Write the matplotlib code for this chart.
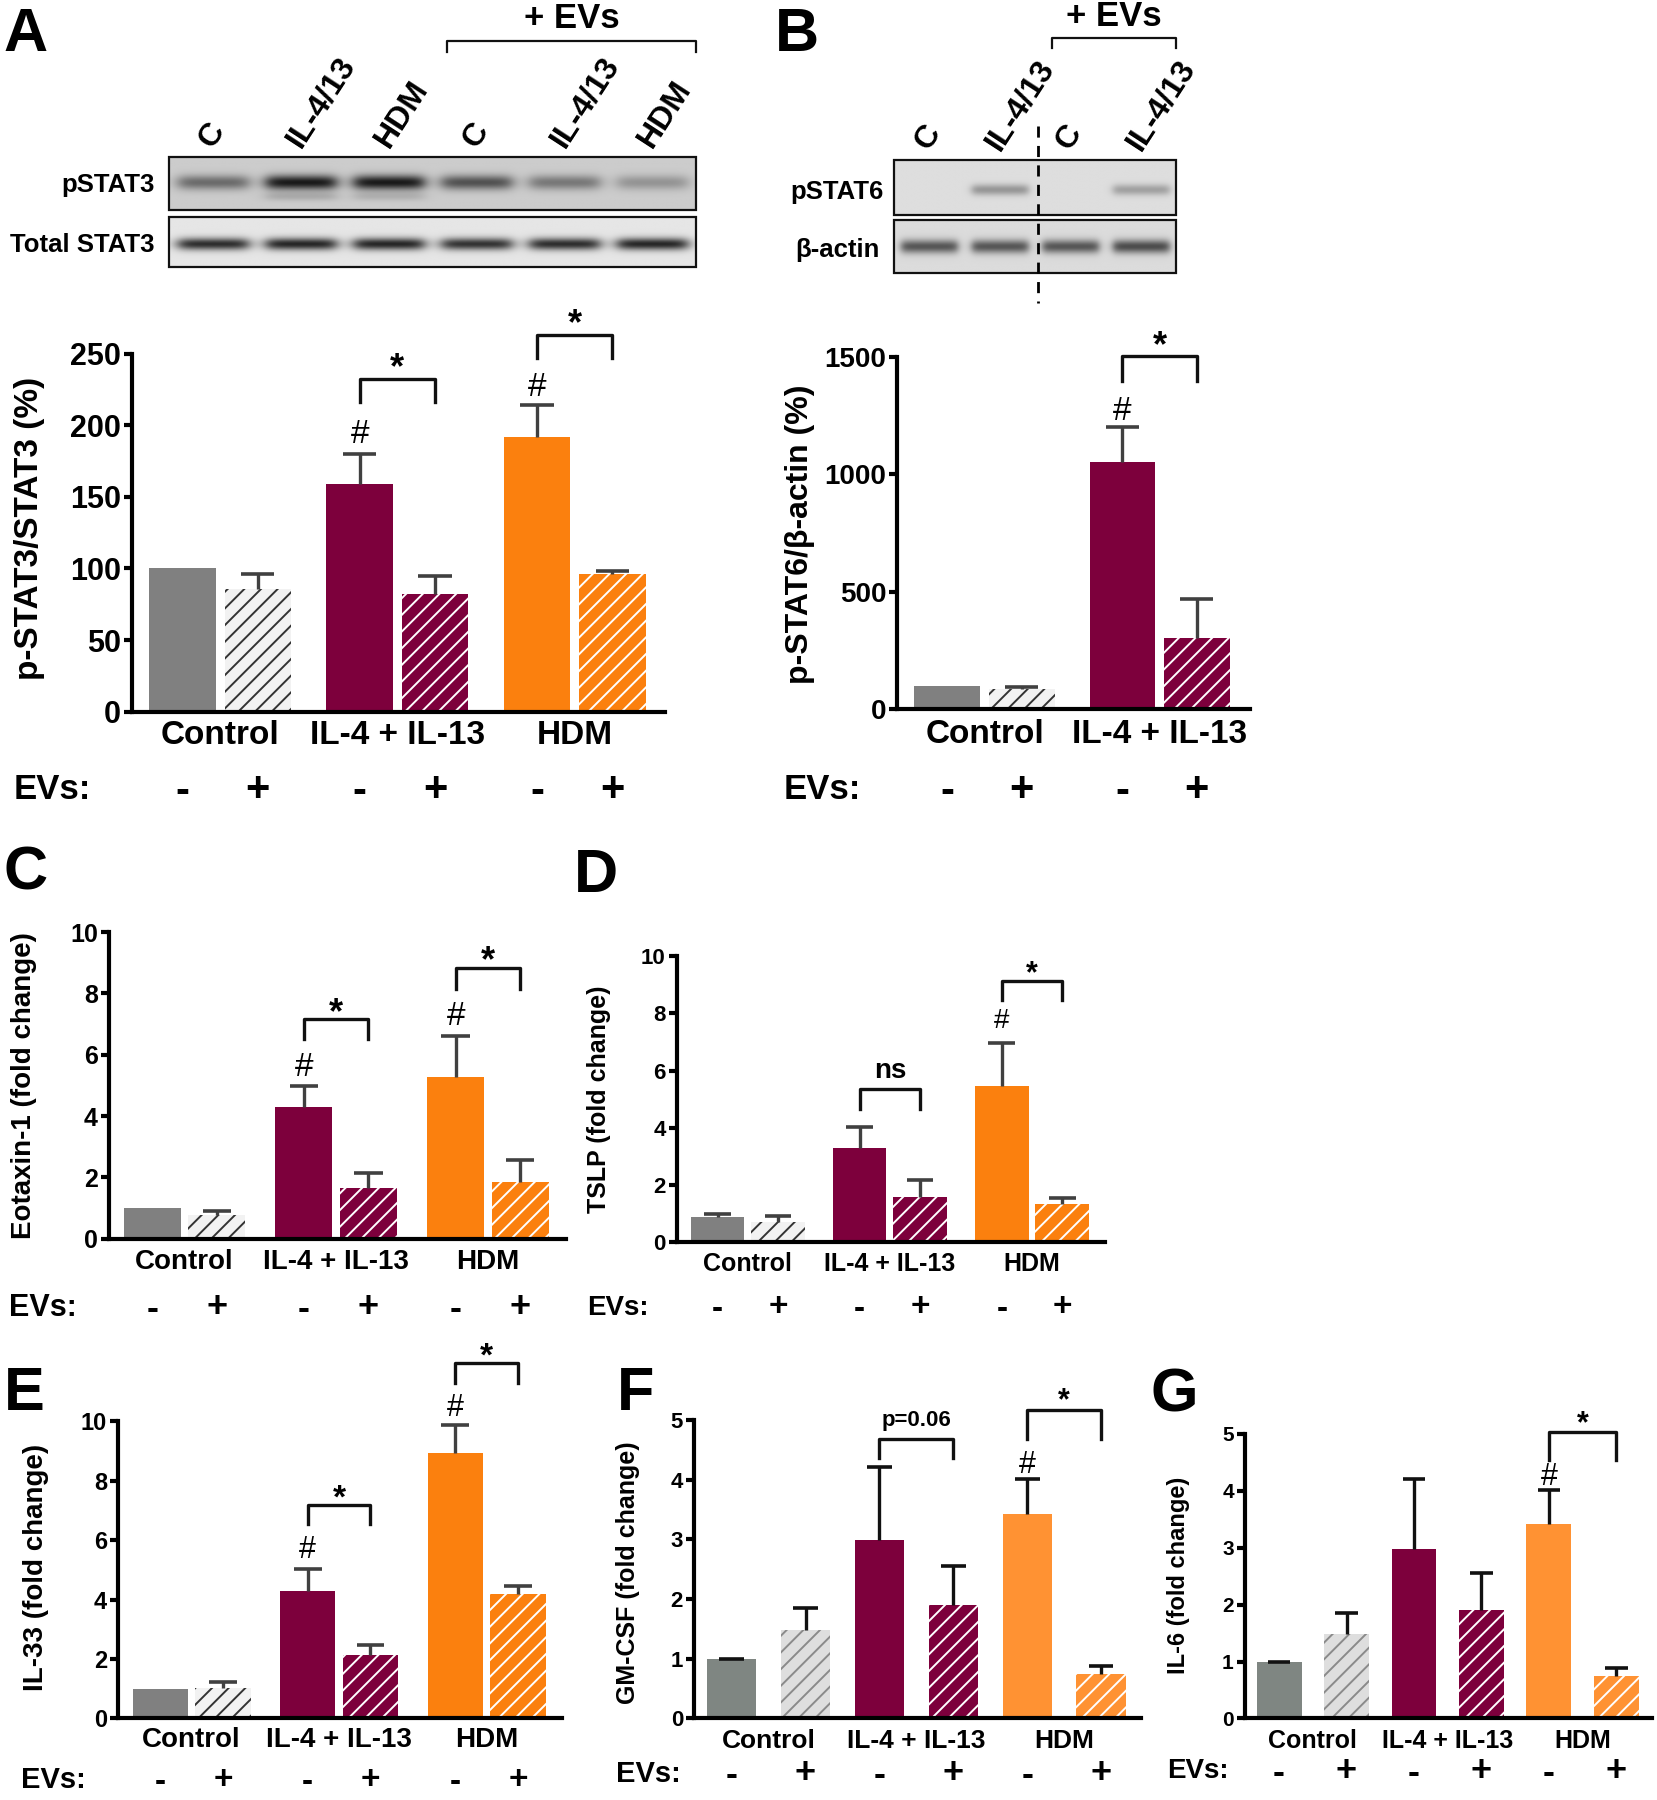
import numpy as np
import matplotlib
matplotlib.use("Agg")
import matplotlib.pyplot as plt
from matplotlib.patches import Rectangle
from matplotlib.transforms import blended_transform_factory

# layout grid used for placing things (reference measured in these units)
W, H = 1445.0, 1568.0

FONT = "Liberation Sans"
NARROW = ["Liberation Sans Narrow", "DejaVu Sans Condensed", "Liberation Sans"]

GRAY = "#808080"
GRAY2 = "#7f8682"
MAROON = "#7d003c"
ORANGE = "#fb800e"
ORANGE2 = "#ff9233"

# ---- data -------------------------------------------------------------
groups3 = ["Control", "IL-4 + IL-13", "HDM"]
groups2 = ["Control", "IL-4 + IL-13"]
evs3 = ["-", "+", "-", "+", "-", "+"]
evs2 = ["-", "+", "-", "+"]

lanes_a = ["C", "IL-4/13", "HDM", "C", "IL-4/13", "HDM"]
lanes_b = ["C", "IL-4/13", "C", "IL-4/13"]
pstat3_bands = [0.38, 0.70, 0.70, 0.48, 0.33, 0.22]
stat3_bands = [0.72, 0.75, 0.75, 0.70, 0.72, 0.75]
pstat6_bands = [0.0, 0.28, 0.0, 0.24]
actin_bands = [0.52, 0.52, 0.52, 0.56]

stat3_mean = [100, 86, 159, 82, 192, 96]
stat3_top = [np.nan, 96, 180, 95, 214, 98.5]
stat6_mean = [100, 85, 1055, 305]
stat6_top = [np.nan, 95, 1200, 470]
eotaxin_mean = [1.0, 0.76, 4.28, 1.64, 5.26, 1.84]
eotaxin_top = [np.nan, 0.90, 4.98, 2.13, 6.60, 2.57]
tslp_mean = [0.88, 0.72, 3.28, 1.58, 5.46, 1.32]
tslp_top = [1.0, 0.92, 4.02, 2.17, 6.98, 1.53]
il33_mean = [1.0, 1.03, 4.30, 2.13, 8.93, 4.20]
il33_top = [np.nan, 1.22, 5.03, 2.48, 9.88, 4.46]
gmcsf_mean = [1.0, 1.49, 2.99, 1.90, 3.42, 0.74]
gmcsf_top = [1.0, 1.85, 4.21, 2.55, 4.02, 0.88]
il6_mean = [0.99, 1.49, 2.98, 1.90, 3.42, 0.74]
il6_top = [1.0, 1.85, 4.21, 2.55, 4.02, 0.88]

# brackets: (bar i, bar j, leg bottom, top, label, label y)
stat3_br = [(2, 3, 216, 232, "*", 247), (4, 5, 247, 263, "*", 278)]
stat3_hash = [(2, 196), (4, 229)]
stat6_br = [(2, 3, 1400, 1505, "*", 1590)]
stat6_hash = [(2, 1285)]
eotaxin_br = [(2, 3, 6.5, 7.17, "*", 7.7), (4, 5, 8.15, 8.84, "*", 9.4)]
eotaxin_hash = [(2, 5.7), (4, 7.35)]
tslp_br = [(2, 3, 4.66, 5.34, "ns", 6.0), (4, 5, 8.48, 9.15, "*", 9.7)]
tslp_hash = [(4, 7.84)]
il33_br = [(2, 3, 6.53, 7.19, "*", 7.75), (4, 5, 11.29, 11.94, "*", 12.5)]
il33_hash = [(2, 5.76), (4, 10.54)]
gmcsf_br = [(2, 3, 4.37, 4.69, "p=0.06", 5.0), (4, 5, 4.68, 5.16, "*", 5.47)]
gmcsf_hash = [(4, 4.3)]
il6_br = [(4, 5, 4.54, 5.03, "*", 5.33)]
il6_hash = [(4, 4.29)]

pos_pair3 = [0, 1.13, 2.66, 3.79, 5.32, 6.45]
pos_pair2 = [0, 1.13, 2.66, 3.79]
pos_even = [0, 1.5, 3.0, 4.5, 6.0, 7.5]

plt.rcParams["font.family"] = [FONT, "DejaVu Sans"]
plt.rcParams["font.weight"] = "bold"
plt.rcParams["hatch.linewidth"] = 1.4

fig = plt.figure(figsize=(16.58, 18.0), dpi=100)
canvas = fig.add_axes([0, 0, 1, 1])
canvas.set_xlim(0, W)
canvas.set_ylim(H, 0)
canvas.axis("off")


def px_rect(left, top, right, bottom):
    return [left / W, 1 - bottom / H, (right - left) / W, (bottom - top) / H]


def blot(x0, x1, y0, y1, bands, yc, sig, bg, extra=None):
    nx, ny = 500, 80
    xs = np.linspace(0, 1, nx)
    ys = np.linspace(0, 1, ny)
    img = np.full((ny, nx), bg)
    n = len(bands)
    for i, amp in enumerate(bands):
        cx = (i + 0.5) / n
        px = 1 / (1 + np.exp((np.abs(xs - cx) - 0.40 / n) / 0.008))
        py = np.exp(-((ys - yc) / sig) ** 2)
        img -= amp * np.outer(py, px)
        if extra is not None and extra[i] > 0:
            py2 = np.exp(-((ys - 0.75) / 0.08) ** 2)
            img -= extra[i] * np.outer(py2, px)
    canvas.imshow(img, cmap="gray", vmin=0, vmax=1, extent=(x0, x1, y1, y0),
                  aspect="auto", interpolation="bilinear", zorder=1)
    canvas.add_patch(Rectangle((x0, y0), x1 - x0, y1 - y0, fill=False,
                               lw=1.6, ec="#111111", zorder=2))


def lane_labels(x0, x1, names, ybase, size):
    n = len(names)
    for i, s in enumerate(names):
        cx = x0 + (x1 - x0) * (i + 0.5) / n
        canvas.text(cx - 6, ybase, s, rotation=57, rotation_mode="anchor",
                    ha="left", va="center", fontsize=size, fontweight="bold")


def ev_bracket(x0, x1, y, text_y, size):
    canvas.plot([x0, x0, x1, x1], [y + 9, y, y, y + 9], color="#111111", lw=1.6)
    canvas.text((x0 + x1) / 2, text_y, "+ EVs", ha="center", va="center",
                fontsize=size, fontweight="bold", family=NARROW,
                fontstretch="condensed")


def mark(ax, x, y, s, size, weight="bold", c=0.57):
    ax.annotate(s, (x, y), xytext=(0, -c * size), textcoords="offset points",
                ha="center", va="baseline", fontsize=size, fontweight=weight,
                annotation_clip=False)


def bar_panel(box, ymax, yticks, pos, means, tops, faces, hatch_cols, groups,
              evs, tick_size, group_size, ev_size, sign_size, group_y, ev_y,
              ev_x, brackets, hashes, err_col="#404040", narrow=False,
              star_size=26, hash_size=24):
    ax = fig.add_axes(px_rect(*box))
    bw = 1.0
    for x, m, fc, hc in zip(pos, means, faces, hatch_cols):
        if hc is None:
            ax.bar(x, m, width=bw, color=fc, linewidth=0, zorder=2)
        else:
            ax.bar(x, m, width=bw, color=fc, edgecolor=hc, hatch="//",
                   linewidth=0, zorder=2)
    for x, m, t in zip(pos, means, tops):
        if np.isnan(t):
            continue
        ax.vlines(x, m, t, color=err_col, lw=2.4, zorder=3)
        ax.hlines(t, x - 0.25, x + 0.25, color=err_col, lw=2.6, zorder=3)
    ax.set_xlim(pos[0] - 0.5 - 0.26, pos[-1] + 0.5 + 0.3)
    ax.set_ylim(0, ymax)
    ax.set_yticks(yticks)
    ax.set_xticks([])
    for sp in ["top", "right"]:
        ax.spines[sp].set_visible(False)
    for sp in ["left", "bottom"]:
        ax.spines[sp].set_linewidth(3.0)
        ax.spines[sp].set_color("black")
    ax.patch.set_alpha(0)
    ax.tick_params(axis="y", direction="out", length=6, width=3.0, pad=2,
                   labelsize=tick_size)
    for lab in ax.get_yticklabels():
        lab.set_fontweight("bold")
        if narrow:
            lab.set_family(NARROW)
            lab.set_fontstretch("condensed")
    for i, j, lo, hi, s, sy in brackets:
        ax.plot([pos[i], pos[i], pos[j], pos[j]], [lo, hi, hi, lo],
                color="#111111", lw=2.4, clip_on=False)
        if s == "*":
            mark(ax, (pos[i] + pos[j]) / 2, sy, s, star_size, c=0.57)
        else:
            mark(ax, (pos[i] + pos[j]) / 2, sy, s,
                 20 if s == "ns" else 16, c=0.28)
    for i, hy in hashes:
        mark(ax, pos[i], hy, "#", hash_size, weight="normal", c=0.36)
    tr = blended_transform_factory(ax.transData, canvas.transData)
    for g, name in enumerate(groups):
        gx = (pos[2 * g] + pos[2 * g + 1]) / 2
        t = ax.text(gx, group_y, name, transform=tr, ha="center", va="center",
                    fontsize=group_size, fontweight="bold")
        if narrow:
            t.set_family(NARROW)
            t.set_fontstretch("condensed")
    canvas.text(ev_x, ev_y, "EVs:", ha="left", va="center", fontsize=ev_size,
                fontweight="bold")
    for x, s in zip(pos, evs):
        ax.text(x, ev_y + (2 if s == "-" else 0), s, transform=tr,
                ha="center", va="center", fontsize=sign_size, fontweight="bold")
    return ax


def ylabel(x, y, s, size):
    canvas.text(x, y, s, rotation=90, ha="center", va="center", fontsize=size,
                fontweight="bold")


def letter(x, y, s):
    canvas.text(x, y, s, ha="left", va="baseline", fontsize=44,
                fontweight="bold")


def blot_label(x, y, s):
    canvas.text(x, y, s, ha="right", va="center", fontsize=18.5,
                fontweight="bold", family=NARROW, fontstretch="condensed")


# ---- panel A: blot -------------------------------------------------------
letter(3, 44, "A")
lane_labels(147, 607, lanes_a, 126, 23)
ev_bracket(390, 607, 36, 16, 25)
blot(147, 607, 137, 183, pstat3_bands, 0.48, 0.14, 0.80,
     extra=[0, 0.12, 0.10, 0, 0, 0])
blot(147, 607, 189, 233, stat3_bands, 0.55, 0.12, 0.90)
blot_label(135, 161, "pSTAT3")
blot_label(135, 213, "Total STAT3")

faces3 = [GRAY, "#f2f2f2", MAROON, MAROON, ORANGE, ORANGE]
hatch3 = [None, "#333333", None, "white", None, "white"]

bar_panel((115, 308, 580, 620), 250, [0, 50, 100, 150, 200, 250], pos_pair3,
          stat3_mean, stat3_top, faces3, hatch3, groups3, evs3,
          22, 24, 25, 30, 641, 688, 12, stat3_br, stat3_hash, narrow=True)
ylabel(26, 460, "p-STAT3/STAT3 (%)", 24)

# ---- panel B -------------------------------------------------------------
letter(675, 44, "B")
lane_labels(779, 1025, lanes_b, 128, 23)
ev_bracket(917, 1025, 33, 14, 25)
blot(779, 1025, 139, 187, pstat6_bands, 0.55, 0.10, 0.87)
blot(779, 1025, 192, 238, actin_bands, 0.50, 0.13, 0.86)
canvas.plot([905, 905], [110, 264], color="black", lw=2.0, ls=(0, (4, 3)),
            zorder=3)
blot_label(770, 167, "pSTAT6")
blot_label(767, 218, "\u03b2-actin")

faces2 = [GRAY, "#f2f2f2", MAROON, MAROON]
hatch2 = [None, "#333333", None, "white"]
bar_panel((782, 311, 1089, 618), 1500, [0, 500, 1000, 1500], pos_pair2,
          stat6_mean, stat6_top, faces2, hatch2, groups2, evs2,
          20, 24, 25, 30, 640, 688, 683, stat6_br, stat6_hash, narrow=True)
ylabel(697, 465, "p-STAT6/\u03b2-actin (%)", 23)

# ---- panel C -------------------------------------------------------------
letter(3, 775, "C")
bar_panel((95, 812, 493, 1079), 10, [0, 2, 4, 6, 8, 10], pos_pair3,
          eotaxin_mean, eotaxin_top, faces3, hatch3, groups3, evs3,
          18, 20, 22, 26, 1099, 1139, 8, eotaxin_br, eotaxin_hash)
ylabel(21, 946, "Eotaxin-1 (fold change)", 20)

# ---- panel D -------------------------------------------------------------
letter(500, 777, "D")
bar_panel((590, 833, 963, 1082), 10, [0, 2, 4, 6, 8, 10], pos_pair3,
          tslp_mean, tslp_top, faces3, hatch3, groups3, evs3,
          16, 18, 20, 24, 1101, 1139, 512, tslp_br, tslp_hash,
          star_size=22, hash_size=20)
ylabel(522, 958, "TSLP (fold change)", 18)

# ---- panel E -------------------------------------------------------------
letter(3, 1228, "E")
bar_panel((103, 1238, 490, 1497), 10, [0, 2, 4, 6, 8, 10], pos_pair3,
          il33_mean, il33_top, faces3, hatch3, groups3, evs3,
          17, 20, 21, 24, 1516, 1551, 18, il33_br, il33_hash,
          star_size=24, hash_size=22)
ylabel(31, 1365, "IL-33 (fold change)", 20)

# ---- panels F and G ------------------------------------------------------
faces_fg = [GRAY2, "#dedede", MAROON, MAROON, ORANGE2, ORANGE2]
hatch_fg = [None, "#8a8a8a", None, "white", None, "white"]

letter(538, 1228, "F")
bar_panel((605, 1237, 994, 1497), 5, [0, 1, 2, 3, 4, 5], pos_even,
          gmcsf_mean, gmcsf_top, faces_fg, hatch_fg, groups3, evs3,
          16, 19, 21, 26, 1517, 1545, 537, gmcsf_br, gmcsf_hash,
          err_col="#111111", star_size=22, hash_size=22)
ylabel(547, 1370, "GM-CSF (fold change)", 18)

letter(1003, 1230, "G")
bar_panel((1085, 1249, 1440, 1497), 5, [0, 1, 2, 3, 4, 5], pos_even,
          il6_mean, il6_top, faces_fg, hatch_fg, groups3, evs3,
          15, 18, 20, 26, 1517, 1543, 1017, il6_br, il6_hash,
          err_col="#111111", star_size=22, hash_size=22)
ylabel(1027, 1372, "IL-6 (fold change)", 17)

fig.savefig("out.png", dpi=100)
